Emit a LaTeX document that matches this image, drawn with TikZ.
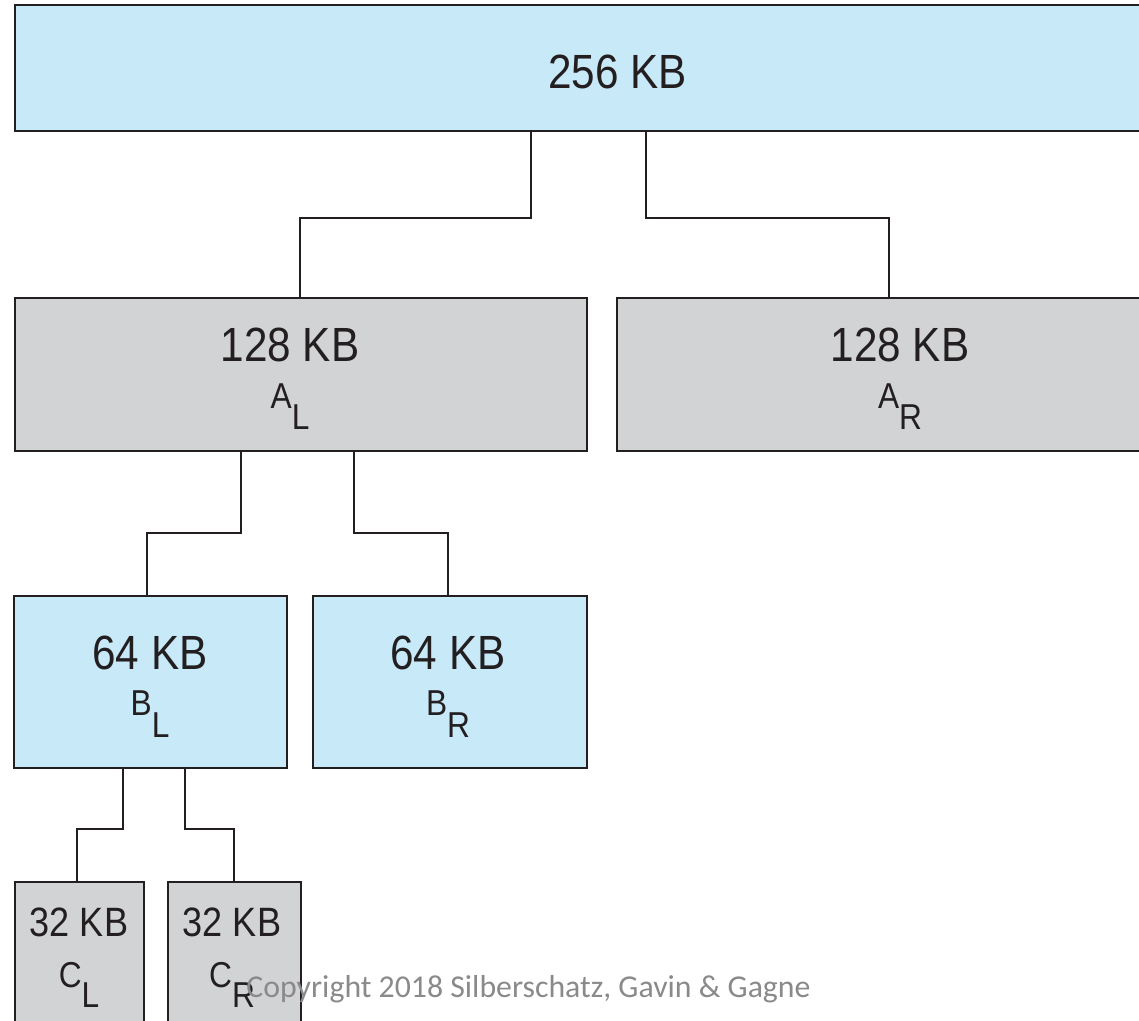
\documentclass[tikz,border=0pt]{standalone}
\usepackage{fontspec}
\setmainfont{Liberation Sans}[FakeStretch=0.88]
\newfontfamily\copyfont{Carlito}
\definecolor{boxblue}{HTML}{C7E9F8}
\definecolor{boxgray}{HTML}{D1D3D4}
\definecolor{ink}{HTML}{231F20}
\definecolor{copygray}{HTML}{8A8A8A}
\begin{document}
\begin{tikzpicture}[x=1pt,y=-1pt,
  blk/.style={draw=ink, line width=2pt, inner sep=0pt, outer sep=0pt},
  bluebox/.style={blk, fill=boxblue},
  graybox/.style={blk, fill=boxgray},
  conn/.style={draw=ink, line width=1.6pt},
  big/.style={anchor=base, inner sep=0pt, font=\fontsize{48}{48}\selectfont, text=ink},
  mid/.style={anchor=base, inner sep=0pt, font=\fontsize{41}{41}\selectfont, text=ink},
  sub/.style={anchor=base, inner sep=0pt, font=\fontsize{36}{36}\selectfont, text=ink}]
\useasboundingbox (0,0) rectangle (1139,1020);
\clip (0,0) rectangle (1139,1020);
% boxes
\node[bluebox, minimum width=1135, minimum height=126] (top) at (582.5,68) {};
\node[graybox, minimum width=572, minimum height=153] (AL) at (301,374.5) {};
\node[graybox, minimum width=544, minimum height=153] (AR) at (889,374.5) {};
\node[bluebox, minimum width=273, minimum height=172] (BL) at (150.5,682) {};
\node[bluebox, minimum width=274, minimum height=172] (BR) at (450,682) {};
\node[graybox, minimum width=129, minimum height=200] (CL) at (79.5,982) {};
\node[graybox, minimum width=133, minimum height=200] (CR) at (234.5,982) {};
% connectors
\draw[conn] ([xshift=-51.5pt]top.south) -- ++(0,87) -| ([xshift=-1pt]AL.north);
\draw[conn] ([xshift=63.5pt]top.south) -- ++(0,87) -| (AR.north);
\draw[conn] ([xshift=-60pt]AL.south) -- ++(0,82) -| ([xshift=-3.5pt]BL.north);
\draw[conn] ([xshift=53pt]AL.south) -- ++(0,82) -| ([xshift=-2pt]BR.north);
\draw[conn] ([xshift=-27.5pt]BL.south) -- ++(0,61) -| ([xshift=-2.5pt]CL.north);
\draw[conn] ([xshift=34.5pt]BL.south) -- ++(0,61) -| ([xshift=-0.5pt]CR.north);
% labels
\node[big] (ttop) at (617.5,88) {256 KB};
\node[big] (tAL) at (290,361.5) {128 KB};
\node[sub] (sAL) at (290,408) {A\raisebox{-21pt}{L}};
\node[big] (tAR) at (900,361.5) {128 KB};
\node[sub] (sAR) at (900,408) {A\raisebox{-21pt}{R}};
\node[big] (tBL) at (150,669) {64 KB};
\node[sub] (sBL) at (150,715) {B\raisebox{-22pt}{L}};
\node[big] (tBR) at (448,669) {64 KB};
\node[sub] (sBR) at (448,715) {B\raisebox{-22pt}{R}};
\node[mid] (tCL) at (79,936) {32 KB};
\node[sub] (sCL) at (79,987) {C\raisebox{-20pt}{L}};
\node[mid] (tCR) at (232,936) {32 KB};
\node[sub] (sCR) at (232,987) {C\raisebox{-20pt}{R}};
\node[anchor=base, inner sep=0pt, font=\copyfont\fontsize{31.8}{31.8}\selectfont, text=copygray] (copy) at (528.5,997) {Copyright 2018 Silberschatz, Gavin \& Gagne};
\end{tikzpicture}
\end{document}
